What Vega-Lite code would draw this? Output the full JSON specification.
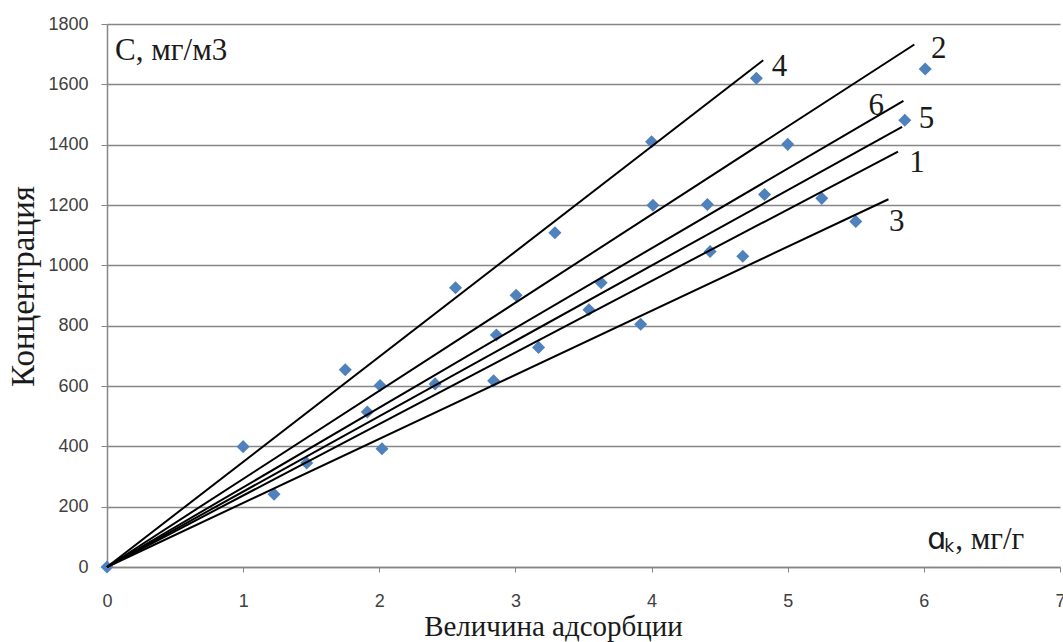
{
  "$schema": "https://vega.github.io/schema/vega-lite/v6.json",
  "autosize": "none",
  "width": 953,
  "height": 543,
  "padding": {"left": 107, "top": 24, "right": 3, "bottom": 75},
  "background": "white",
  "config": {
    "view": {"stroke": null},
    "axis": {
      "labelFont": "Liberation Sans",
      "labelFontSize": 18,
      "labelColor": "#404040",
      "domainColor": "#868686",
      "domainWidth": 1.5,
      "tickColor": "#868686",
      "tickWidth": 1,
      "titleFont": "Liberation Serif",
      "titleFontWeight": "normal",
      "titleColor": "#1a1a1a"
    }
  },
  "datasets": {
    "points": [
      {"a": 0, "c": 0},
      {"a": 1.0, "c": 399},
      {"a": 1.227, "c": 241},
      {"a": 1.467, "c": 345},
      {"a": 1.75, "c": 654},
      {"a": 1.912, "c": 514},
      {"a": 2.006, "c": 602},
      {"a": 2.02, "c": 392},
      {"a": 2.41, "c": 607},
      {"a": 2.56, "c": 926},
      {"a": 2.84, "c": 617},
      {"a": 2.86, "c": 769},
      {"a": 3.005, "c": 901},
      {"a": 3.17, "c": 728},
      {"a": 3.29, "c": 1108},
      {"a": 3.54, "c": 853},
      {"a": 3.63, "c": 942},
      {"a": 3.92, "c": 805},
      {"a": 4.0, "c": 1410},
      {"a": 4.01, "c": 1199},
      {"a": 4.41, "c": 1202},
      {"a": 4.43, "c": 1046},
      {"a": 4.67, "c": 1030},
      {"a": 4.77, "c": 1620},
      {"a": 4.83, "c": 1235},
      {"a": 5.0, "c": 1401},
      {"a": 5.25, "c": 1222},
      {"a": 5.5, "c": 1145},
      {"a": 5.86, "c": 1481},
      {"a": 6.01, "c": 1651}
    ],
    "lines": [
      {"id": "4", "a": 0, "c": 0}, {"id": "4", "a": 4.82, "c": 1680},
      {"id": "2", "a": 0, "c": 0}, {"id": "2", "a": 5.93, "c": 1732},
      {"id": "6", "a": 0, "c": 0}, {"id": "6", "a": 5.85, "c": 1545},
      {"id": "5", "a": 0, "c": 0}, {"id": "5", "a": 5.84, "c": 1459},
      {"id": "1", "a": 0, "c": 0}, {"id": "1", "a": 5.81, "c": 1377},
      {"id": "3", "a": 0, "c": 0}, {"id": "3", "a": 5.74, "c": 1219}
    ],
    "labels": [
      {"t": "4", "a": 4.94, "c": 1657},
      {"t": "2", "a": 6.11, "c": 1717},
      {"t": "6", "a": 5.65, "c": 1528},
      {"t": "5", "a": 6.02, "c": 1485},
      {"t": "1", "a": 5.95, "c": 1339},
      {"t": "3", "a": 5.8, "c": 1143}
    ]
  },
  "layer": [
    {
      "data": {"name": "points"},
      "mark": {"type": "point", "shape": "diamond", "filled": true, "size": 170, "color": "#4F81BD", "opacity": 1},
      "encoding": {
        "x": {
          "field": "a", "type": "quantitative",
          "scale": {"domain": [0, 7], "nice": false, "zero": true},
          "axis": {
            "values": [0, 1, 2, 3, 4, 5, 6, 7], "format": "d", "grid": false, "tickSize": 5,
            "labelFlush": false, "labelPadding": 20, "title": "Величина адсорбции", "titleFontSize": 29,
            "titleX": 446, "titleY": 68, "titleBaseline": "alphabetic", "titleAlign": "center"
          }
        },
        "y": {
          "field": "c", "type": "quantitative",
          "scale": {"domain": [0, 1800], "nice": false},
          "axis": {
            "values": [0, 200, 400, 600, 800, 1000, 1200, 1400, 1600, 1800], "format": "d",
            "grid": true, "gridColor": "#868686", "gridWidth": 1.5, "tickSize": 6,
            "labelFlush": false, "labelPadding": 13, "title": "Концентрация", "titleFontSize": 33,
            "titleAngle": -90, "titleX": -84, "titleY": 262, "titleBaseline": "middle", "titleAlign": "center"
          }
        }
      }
    },
    {
      "data": {"name": "lines"},
      "mark": {"type": "line", "color": "black", "strokeWidth": 2},
      "encoding": {
        "x": {"field": "a", "type": "quantitative"},
        "y": {"field": "c", "type": "quantitative"},
        "detail": {"field": "id"}
      }
    },
    {
      "data": {"name": "labels"},
      "mark": {"type": "text", "font": "Liberation Serif", "fontSize": 31, "color": "#1a1a1a", "align": "center", "baseline": "middle"},
      "encoding": {
        "x": {"field": "a", "type": "quantitative"},
        "y": {"field": "c", "type": "quantitative"},
        "text": {"field": "t"}
      }
    },
    {
      "data": {"values": [
        {"t": "C, мг/м3", "a": 0.059, "c": 1680},
        {"t": ", мг/г", "a": 6.23, "c": 60}
      ]},
      "mark": {"type": "text", "font": "Liberation Serif", "fontSize": 31, "color": "#1a1a1a", "align": "left", "baseline": "alphabetic"},
      "encoding": {
        "x": {"field": "a", "type": "quantitative"},
        "y": {"field": "c", "type": "quantitative"},
        "text": {"field": "t"}
      }
    },
    {
      "data": {"values": [{"t": "ɑ", "a": 6.025, "c": 60}]},
      "mark": {"type": "text", "font": "DejaVu Sans", "fontSize": 30, "color": "#1a1a1a", "align": "left", "baseline": "alphabetic"},
      "encoding": {
        "x": {"field": "a", "type": "quantitative"},
        "y": {"field": "c", "type": "quantitative"},
        "text": {"field": "t"}
      }
    },
    {
      "data": {"values": [{"t": "k", "a": 6.15, "c": 50}]},
      "mark": {"type": "text", "font": "DejaVu Sans", "fontSize": 17, "color": "#1a1a1a", "align": "left", "baseline": "alphabetic"},
      "encoding": {
        "x": {"field": "a", "type": "quantitative"},
        "y": {"field": "c", "type": "quantitative"},
        "text": {"field": "t"}
      }
    }
  ]
}
